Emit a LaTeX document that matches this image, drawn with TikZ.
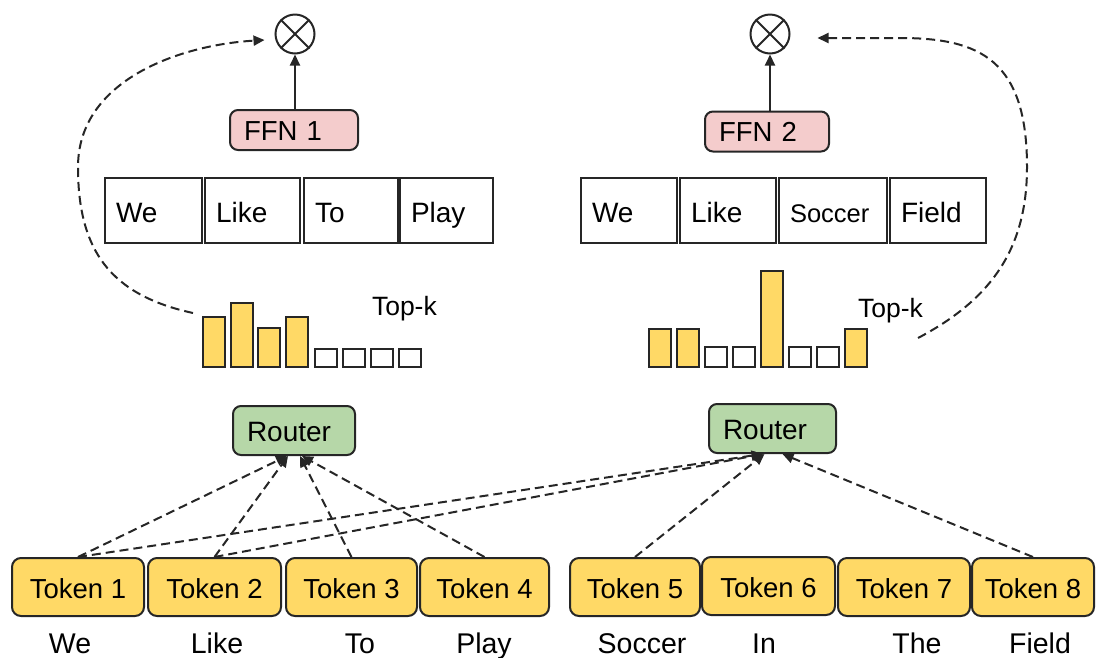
\documentclass[tikz,border=0pt]{standalone}
\usepackage{fontspec}
\setmainfont{Liberation Sans}
\usetikzlibrary{arrows.meta,calc}
\definecolor{linec}{HTML}{262626}
\definecolor{tokfill}{HTML}{FFD966}
\definecolor{routfill}{HTML}{B6D7A8}
\definecolor{ffnfill}{HTML}{F4CCCC}
\tikzset{
  tok/.style={draw=linec, fill=tokfill, rounded corners=9pt, minimum height=58pt, inner sep=0pt, text height=22pt, text depth=0pt, font=\fontsize{27.5}{31}\selectfont},
  rout/.style={draw=linec, fill=routfill, rounded corners=8pt, minimum height=49pt, inner xsep=14pt, inner ysep=0pt, text height=21pt, text depth=0pt, align=left, font=\fontsize{28}{32}\selectfont},
  ffn/.style={draw=linec, fill=ffnfill, rounded corners=8pt, minimum height=40pt, inner xsep=14pt, inner ysep=0pt, text height=20pt, text depth=0pt, align=left, font=\fontsize{27.5}{31}\selectfont},
  wbox/.style={draw=linec, minimum height=65pt, inner xsep=11pt, inner ysep=0pt, text height=23pt, text depth=0pt, align=left, font=\fontsize{28}{32}\selectfont},
  bar/.style={draw=linec, fill=tokfill, minimum width=22pt, inner sep=0pt, outer sep=0pt, anchor=south west},
  sq/.style={draw=linec, fill=white, minimum width=22pt, inner sep=0pt, outer sep=0pt, anchor=south west},
  word/.style={anchor=base, font=\fontsize{28.5}{32}\selectfont, inner sep=0pt},
  topk/.style={anchor=base west, font=\fontsize{26.5}{30}\selectfont, inner sep=0pt},
  mult/.style={draw=linec, circle, minimum size=39pt, inner sep=0pt},
  dsh/.style={draw=linec, dash pattern=on 9pt off 5pt, -{Triangle[length=11pt,width=10pt]}},
  sol/.style={draw=linec, -{Triangle[length=11pt,width=10pt]}}
}
\begin{document}
\begin{tikzpicture}[x=1pt,y=-1pt,line width=2pt]
\useasboundingbox (0,0) rectangle (1097,657);

% multiply circles
\node[mult] (c1) at (295,34) {};
\draw[linec] (c1.north west) -- (c1.south east) (c1.north east) -- (c1.south west);
\node[mult] (c2) at (770,34) {};
\draw[linec] (c2.north west) -- (c2.south east) (c2.north east) -- (c2.south west);

% FFN boxes
\node[ffn, text width=100pt] (f1) at (294,130) {FFN 1};
\node[ffn, text width=96pt] (f2) at (767,131.5) {FFN 2};
\draw[sol] (c1.south |- f1.north) -- (c1.south);
\draw[sol] (c2.south |- f2.north) -- (c2.south);

% word boxes left
\node[wbox, text width=75pt] (wa1) at (153.5,210.5) {We};
\node[wbox, text width=73pt] (wa2) at (252.5,210.5) {Like};
\node[wbox, text width=72pt] (wa3) at (351,210.5) {To};
\node[wbox, text width=71pt] (wa4) at (446.5,210.5) {Play};
% word boxes right
\node[wbox, text width=74pt] (wb1) at (629,210.5) {We};
\node[wbox, text width=74pt] (wb2) at (728,210.5) {Like};
\node[wbox, text width=86pt, font=\fontsize{25.5}{29}\selectfont] (wb3) at (833,210.5) {Soccer};
\node[wbox, text width=74pt] (wb4) at (938,210.5) {Field};

% bars left
\node[bar, minimum height=50pt] (a1) at (203,367) {};
\node[bar, minimum height=64pt] (a2) at (231,367) {};
\node[bar, minimum height=39pt] (a3) at (258,367) {};
\node[bar, minimum height=50pt] (a4) at (286,367) {};
\node[sq, minimum height=18pt] (a5) at (315,367) {};
\node[sq, minimum height=18pt] (a6) at (343,367) {};
\node[sq, minimum height=18pt] (a7) at (371,367) {};
\node[sq, minimum height=18pt] (a8) at (399,367) {};
\node[topk] (k1) at (371,315) {Top-k};

% bars right
\node[bar, minimum height=38pt] (b1) at (649,367) {};
\node[bar, minimum height=38pt] (b2) at (677,367) {};
\node[sq, minimum height=20pt] (b3) at (705,367) {};
\node[sq, minimum height=20pt] (b4) at (733,367) {};
\node[bar, minimum height=96pt] (b5) at (761,367) {};
\node[sq, minimum height=20pt] (b6) at (789,367) {};
\node[sq, minimum height=20pt] (b7) at (817,367) {};
\node[bar, minimum height=38pt] (b8) at (845,367) {};
\node[topk] (k2) at (857,317) {Top-k};

% routers
\node[rout, text width=94pt] (r1) at (294,430.5) {Router};
\node[rout, text width=99pt] (r2) at (772.5,428.5) {Router};

% tokens
\node[tok, minimum width=132pt] (t1) at (78,587) {Token 1};
\node[tok, minimum width=133pt] (t2) at (214.5,587) {Token 2};
\node[tok, minimum width=131pt] (t3) at (351.5,587) {Token 3};
\node[tok, minimum width=129pt] (t4) at (484.5,587) {Token 4};
\node[tok, minimum width=130pt] (t5) at (635,587) {Token 5};
\node[tok, minimum width=133pt] (t6) at (768.5,586) {Token 6};
\node[tok, minimum width=132pt] (t7) at (904,587) {Token 7};
\node[tok, minimum width=122pt] (t8) at (1033,587) {Token 8};

% words
\node[word] (u1) at (70,653) {We};
\node[word] (u2) at (217,653) {Like};
\node[word] (u3) at (360,653) {To};
\node[word] (u4) at (484,653) {Play};
\node[word] (u5) at (642,653) {Soccer};
\node[word] (u6) at (764,653) {In};
\node[word] (u7) at (917,653) {The};
\node[word] (u8) at (1040,653) {Field};

% router connections
\draw[dsh] (t1.north) -- ([xshift=-7pt]r1.south);
\draw[dsh] (t2.north) -- ([xshift=-6pt]r1.south);
\draw[dsh] (t3.north) -- ([xshift=6pt]r1.south);
\draw[dsh] (t4.north) -- ([xshift=8pt]r1.south);
\draw[dsh] (t1.north) -- ([xshift=-10pt]r2.south);
\draw[dsh] (t2.north) -- ([xshift=-9pt]r2.south);
\draw[dsh] (t5.north) -- ([xshift=-8pt]r2.south);
\draw[dsh] (t8.north) -- ([xshift=10pt]r2.south);

% top-k feedback curves
\coordinate (ls) at (193,313);
\draw[dsh] (ls) .. controls (110,295) and (78,250) .. (78,167)
  .. controls (78,80) and (180,45) .. ($(c1.west)+(-10,6)$);
\coordinate (rs) at (918,338);
\draw[dsh] (rs) .. controls (990,300) and (1027,250) .. (1027,167)
  .. controls (1027,60) and (980,38) .. (900,38) -- ($(c2.east)+(27,4)$);
\end{tikzpicture}
\end{document}
